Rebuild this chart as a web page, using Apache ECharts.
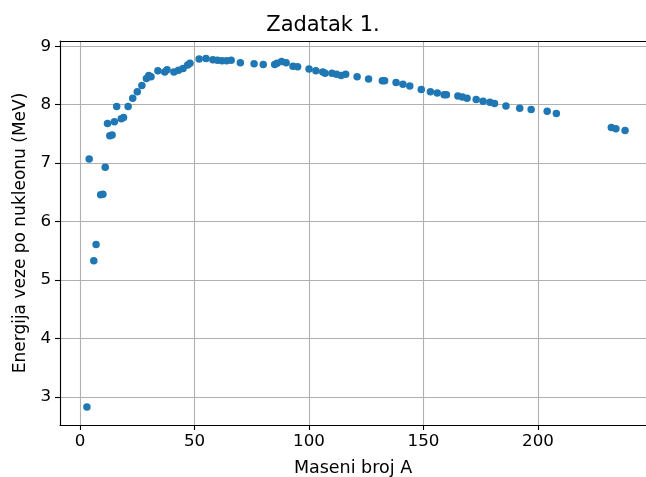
<!DOCTYPE html>
<html>
<head>
<meta charset="utf-8">
<script src="https://cdn.jsdelivr.net/npm/echarts@6/dist/echarts.min.js"></script>
<style>html,body{margin:0;padding:0;background:#fff}#c{width:646px;height:477px}</style>
</head>
<body>
<div id="c"></div>
<script>
const massNumbers = [3,4,6,7,9,10,11,12,13,14,15,16,18,19,21,23,25,27,29,30,31,34,37,38,41,43,45,47,48,52,55,58,60,62,64,66,70,76,80,85,86,88,90,93,95,100,103,106,107,110,112,114,116,121,126,132,133,138,141,144,149,153,156,159,160,165,167,169,173,176,179,181,186,192,197,204,208,232,234,238];
const bindingEnergies = [2.83,7.07,5.33,5.61,6.46,6.47,6.93,7.68,7.47,7.48,7.71,7.97,7.76,7.78,7.97,8.11,8.22,8.33,8.45,8.50,8.48,8.58,8.56,8.60,8.56,8.59,8.62,8.68,8.71,8.78,8.79,8.77,8.76,8.75,8.75,8.76,8.72,8.70,8.69,8.69,8.71,8.74,8.72,8.66,8.65,8.61,8.58,8.56,8.54,8.54,8.52,8.50,8.52,8.48,8.44,8.41,8.41,8.38,8.35,8.32,8.26,8.22,8.20,8.17,8.17,8.15,8.13,8.11,8.09,8.06,8.04,8.02,7.98,7.94,7.92,7.89,7.85,7.61,7.59,7.56];
const titleText = 'Zadatak 1.';
const xLabel = 'Maseni broj A';
const yLabel = 'Energija veze po nukleonu (MeV)';

const points = massNumbers.map((a, i) => [a, bindingEnergies[i]]);
const font = 'DejaVu Sans';
const xMin = -8.75, xMax = 247.15;
const chart = echarts.init(document.getElementById('c'));
chart.setOption({
  animation: false,
  backgroundColor: '#fff',
  title: {
    text: titleText, left: 'center', top: 15, padding: 0,
    textStyle: { fontFamily: font, fontSize: 21, fontWeight: 'normal', color: '#000' }
  },
  grid: { left: 60, top: 41, right: 0, bottom: 52, outerBoundsMode: 'none', containLabel: false },
  xAxis: [{
    type: 'value', min: xMin, max: xMax, splitNumber: 5,
    name: xLabel, nameLocation: 'middle', nameGap: 34,
    nameTextStyle: { fontFamily: font, fontSize: 17.5, color: '#000' },
    axisLine: { show: true, onZero: false, lineStyle: { color: '#000', width: 1.1 } },
    axisTick: { show: true, length: 5, lineStyle: { color: '#000', width: 1.1 } },
    axisLabel: { showMinLabel: false, showMaxLabel: false, margin: 8, fontFamily: font, fontSize: 16.7, color: '#000' },
    splitLine: { show: true, lineStyle: { color: '#b0b0b0', width: 1.1 } }
  }, {
    type: 'value', position: 'top', min: xMin, max: xMax,
    axisLine: { show: true, onZero: false, lineStyle: { color: '#000', width: 1.1 } },
    axisTick: { show: false }, axisLabel: { show: false }, splitLine: { show: false }
  }],
  yAxis: {
    type: 'value', min: 2.52, max: 9.09, splitNumber: 6,
    name: yLabel, nameLocation: 'middle', nameGap: 30, nameRotate: 90,
    nameTextStyle: { fontFamily: font, fontSize: 17, color: '#000' },
    axisLine: { show: true, onZero: false, lineStyle: { color: '#000', width: 1.1 } },
    axisTick: { show: true, length: 5, lineStyle: { color: '#000', width: 1.1 } },
    axisLabel: { showMinLabel: false, showMaxLabel: false, margin: 9, fontFamily: font, fontSize: 16.7, color: '#000' },
    splitLine: { show: true, lineStyle: { color: '#b0b0b0', width: 1.1 } }
  },
  series: [{
    type: 'scatter', data: points, symbolSize: 7.5, xAxisIndex: 0,
    itemStyle: { color: '#1f77b4', opacity: 1 }
  }]
});
</script>
</body>
</html>
